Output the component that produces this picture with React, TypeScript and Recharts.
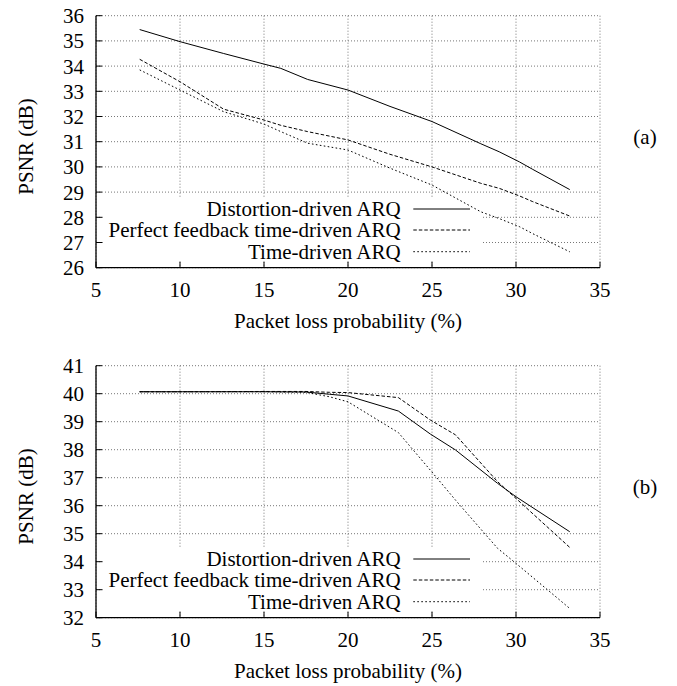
import React from 'react';
import { LineChart, Line, XAxis, YAxis, CartesianGrid, Legend, ReferenceArea } from 'recharts';

// ---------- data ----------
const seriesNames = ['Distortion-driven ARQ', 'Perfect feedback time-driven ARQ', 'Time-driven ARQ'];
const xTicks = [5, 10, 15, 20, 25, 30, 35];

// Chart (a)
const lossA = [7.6, 10, 12.6, 15, 16, 17.6, 20, 22.5, 25, 27.9, 29, 30.2, 31, 33.2];
const distortionA = [35.45, 34.97, 34.5, 34.08, 33.91, 33.47, 33.05, 32.4, 31.8, 30.92, 30.6, 30.2, 29.9, 29.1];
const perfectA = [34.27, 33.38, 32.29, 31.86, 31.65, 31.4, 31.07, 30.5, 30.0, 29.35, 29.15, 28.85, 28.62, 28.05];
const timeA = [33.85, 33.05, 32.19, 31.7, 31.4, 30.94, 30.67, 29.95, 29.28, 28.22, 27.95, 27.63, 27.35, 26.63];
const yTicksA = [26, 27, 28, 29, 30, 31, 32, 33, 34, 35, 36];

// Chart (b)
const lossB = [7.6, 10, 15, 17.5, 18.9, 20, 23, 24.9, 26.4, 28.9, 30, 33.2];
const distortionB = [40.07, 40.07, 40.07, 40.06, 39.98, 39.92, 39.38, 38.56, 37.99, 36.8, 36.32, 35.07];
const perfectB = [40.07, 40.07, 40.08, 40.08, 40.05, 40.04, 39.86, 39.06, 38.53, 36.86, 36.26, 34.51];
const timeB = [40.07, 40.07, 40.07, 40.05, 39.89, 39.71, 38.61, 37.27, 36.2, 34.48, 33.94, 32.33];
const yTicksB = [32, 33, 34, 35, 36, 37, 38, 39, 40, 41];

const build = (xs: number[], a: number[], b: number[], c: number[]) =>
  xs.map((x, i) => ({ x, d: a[i], p: b[i], t: c[i] }));

const dataA = build(lossA, distortionA, perfectA, timeA);
const dataB = build(lossB, distortionB, perfectB, timeB);

// ---------- styles ----------
const FONT = "'Liberation Serif', Tinos, 'DejaVu Serif', serif";
const FS = 21;
const dashes = [undefined, '3.5 2', '1.6 2.4'];
const keys = ['d', 'p', 't'];

const LegendBox = () => {
  const rows = [11, 32, 53.7];
  return (
    <div style={{ width: 379, height: 63 }}>
      <svg width={379} height={63} style={{ display: 'block', overflow: 'visible' }}>
        {seriesNames.map((name, i) => (
          <g key={name}>
            <text
              x={297.7}
              y={rows[i]}
              textAnchor="end"
              dominantBaseline="central"
              style={{ fontFamily: FONT, fontSize: FS }}
              fill="#000"
            >
              {name}
            </text>
            <line x1={310.3} x2={367} y1={rows[i]} y2={rows[i]} stroke="#000" strokeWidth={1} strokeDasharray={dashes[i]} />
          </g>
        ))}
      </svg>
    </div>
  );
};

const tickStyle = { fontSize: FS, fill: '#000', style: { fontFamily: FONT } };

function Panel({
  data,
  yTicks,
  height,
  bottomMargin,
  keyBox,
}: {
  data: any[];
  yTicks: number[];
  height: number;
  bottomMargin: number;
  keyBox: [number, number, number, number];
}) {
  const dom: [number, number] = [yTicks[0], yTicks[yTicks.length - 1]];
  return (
    <LineChart width={677} height={height} data={data} margin={{ top: 15.7, right: 77, left: 36, bottom: bottomMargin }}>
      <CartesianGrid stroke="#777" strokeDasharray="1 2" strokeWidth={1} />
      <ReferenceArea x1={keyBox[0]} x2={keyBox[1]} y1={keyBox[2]} y2={keyBox[3]} fill="#fff" fillOpacity={1} stroke="none" />
      <XAxis
        type="number"
        dataKey="x"
        domain={[5, 35]}
        ticks={xTicks}
        interval={0}
        height={30}
        tick={tickStyle}
        tickSize={-6}
        tickMargin={20}
        axisLine={{ stroke: '#000', strokeWidth: 1.3 }}
        tickLine={{ stroke: '#000' }}
      />
      <XAxis
        xAxisId="top"
        orientation="top"
        type="number"
        domain={[5, 35]}
        ticks={xTicks}
        interval={0}
        height={0}
        tick={false}
        tickSize={-6}
        axisLine={{ stroke: '#000', strokeWidth: 1.3 }}
        tickLine={{ stroke: '#000' }}
      />
      <YAxis
        type="number"
        domain={dom}
        ticks={yTicks}
        interval={0}
        width={60}
        tick={tickStyle}
        tickSize={-6}
        tickMargin={18}
        axisLine={{ stroke: '#000', strokeWidth: 1.3 }}
        tickLine={{ stroke: '#000' }}
      />
      <YAxis
        yAxisId="right"
        orientation="right"
        type="number"
        domain={dom}
        ticks={yTicks}
        interval={0}
        width={0}
        tick={false}
        tickSize={-6}
        axisLine={{ stroke: '#000', strokeWidth: 1.3 }}
        tickLine={{ stroke: '#000' }}
      />
      {keys.map((k, i) => (
        <Line
          key={k}
          dataKey={k}
          name={seriesNames[i]}
          type="linear"
          stroke="#000"
          strokeWidth={1}
          strokeDasharray={dashes[i]}
          dot={false}
          activeDot={false}
          isAnimationActive={false}
        />
      ))}
      <Legend
        layout="vertical"
        align="center"
        verticalAlign="middle"
        content={() => <LegendBox />}
        wrapperStyle={{ position: 'absolute', left: 103, top: 198, width: 379, height: 63 }}
      />
    </LineChart>
  );
}

const textBase: React.CSSProperties = {
  position: 'absolute',
  fontFamily: FONT,
  fontSize: FS,
  lineHeight: '21px',
  color: '#000',
  whiteSpace: 'nowrap',
};

function Titles({ top, tag }: { top: number; tag: string }) {
  return (
    <>
      <div style={{ ...textBase, left: 26 - 100, top: top + 146 - 10.5, width: 200, textAlign: 'center', transform: 'rotate(-90deg)' }}>
        PSNR (dB)
      </div>
      <div style={{ ...textBase, left: 348 - 200, top: top + 321.5 - 10.5, width: 400, textAlign: 'center' }}>
        Packet loss probability (%)
      </div>
      <div style={{ ...textBase, left: 645 - 30, top: top + 137 - 10.5, width: 60, textAlign: 'center' }}>{tag}</div>
    </>
  );
}

// key background box, in data units: [xFrom, xTo, yFrom, yTo]
const keyBoxA: [number, number, number, number] = [5.42, 27.98, 26.28, 28.77];
const keyBoxB: [number, number, number, number] = [5.42, 27.98, 32.25, 34.49];

export default function App() {
  return (
    <div style={{ position: 'absolute', left: 0, top: 0, width: 677, height: 686, background: '#fff', overflow: 'hidden', fontFamily: FONT }}>
      <div style={{ position: 'absolute', left: 0, top: 0 }}>
        <Panel data={dataA} yTicks={yTicksA} height={340} bottomMargin={42.3} keyBox={keyBoxA} />
      </div>
      <div style={{ position: 'absolute', left: 0, top: 350 }}>
        <Panel data={dataB} yTicks={yTicksB} height={336} bottomMargin={38.3} keyBox={keyBoxB} />
      </div>
      <Titles top={0} tag="(a)" />
      <Titles top={350} tag="(b)" />
    </div>
  );
}
